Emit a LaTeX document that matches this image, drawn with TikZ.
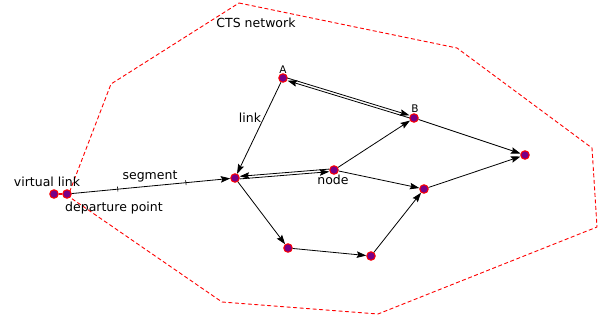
\documentclass[tikz,border=0pt]{standalone}
\usepackage{fontspec}
\setmainfont{DejaVu Sans}
\usetikzlibrary{arrows.meta}
\definecolor{nodepurple}{RGB}{120,0,135}

\begin{document}
\begin{tikzpicture}[
    x=1pt, y=-1pt, >={Stealth[length=9.5pt, width=6.5pt, inset=1.5pt]},
    vnode/.style={circle, draw=red, fill=nodepurple, line width=1pt, inner sep=0pt, minimum size=8.5pt},
    lnode/.style={inner sep=0pt, font=\fontsize{12.5}{14}\selectfont},
    link/.style={->, line width=0.8pt},
    tickmark/.style={sloped, fill=black, inner sep=0pt, minimum width=0.6pt, minimum height=5pt},
  ]
  \useasboundingbox (0,0) rectangle (607,322);
  % CTS network boundary
  \draw[red, line width=0.9pt, dash pattern=on 4pt off 2.5pt]
    (239,3) -- (457,48) -- (592,148) -- (597,227) -- (378,314) -- (222,302)
    -- (68,196) -- (111,84) -- cycle;

  \node[vnode] (vl)   at (54,194)  {};
  \node[vnode] (dep)  at (67,194)  {};
  \node[vnode] (hub)  at (235,178) {};
  \node[vnode] (A)    at (283,78)  {};
  \node[vnode] (B)    at (414,118) {};
  \node[vnode] (node) at (334,170) {};
  \node[vnode] (mid)  at (424,189) {};
  \node[vnode] (dest) at (525,155) {};
  \node[vnode] (low1) at (288,248) {};
  \node[vnode] (low2) at (371,256) {};

  \draw[red, line width=2pt] (vl) -- (dep);
  \draw[link] (dep) -- node[pos=0.29, tickmark]{} node[pos=0.72, tickmark]{} (hub);
  \draw[link] (A) -- (hub);
  \draw[link, transform canvas={yshift=1.3pt}] (A) -- (B);
  \draw[link, transform canvas={yshift=-1.3pt}] (B) -- (A);
  \draw[link, transform canvas={yshift=1.3pt}] (node) -- (hub);
  \draw[link, transform canvas={yshift=-1.3pt}] (hub) -- (node);
  \draw[link] (node) -- (B);
  \draw[link] (node) -- (mid);
  \draw[link] (B) -- (dest);
  \draw[link] (mid) -- (dest);
  \draw[link] (hub) -- (low1);
  \draw[link] (low1) -- (low2);
  \draw[link] (low2) -- (mid);

  \node[lnode] (ctsl)  at (256,23)  {CTS network};
  \node[lnode] (vll)   at (47,182)  {virtual link};
  \node[lnode] (depl)  at (114,208) {departure point};
  \node[lnode] (segl)  at (150,176) {segment};
  \node[lnode] (linkl) at (250,118) {link};
  \node[lnode] (nodel) at (333,180) {node};
  \node[lnode, font=\fontsize{10.5}{12}\selectfont] (Al) at (283,70) {A};
  \node[lnode, font=\fontsize{10.5}{12}\selectfont] (Bl) at (415,109) {B};
\end{tikzpicture}
\end{document}
